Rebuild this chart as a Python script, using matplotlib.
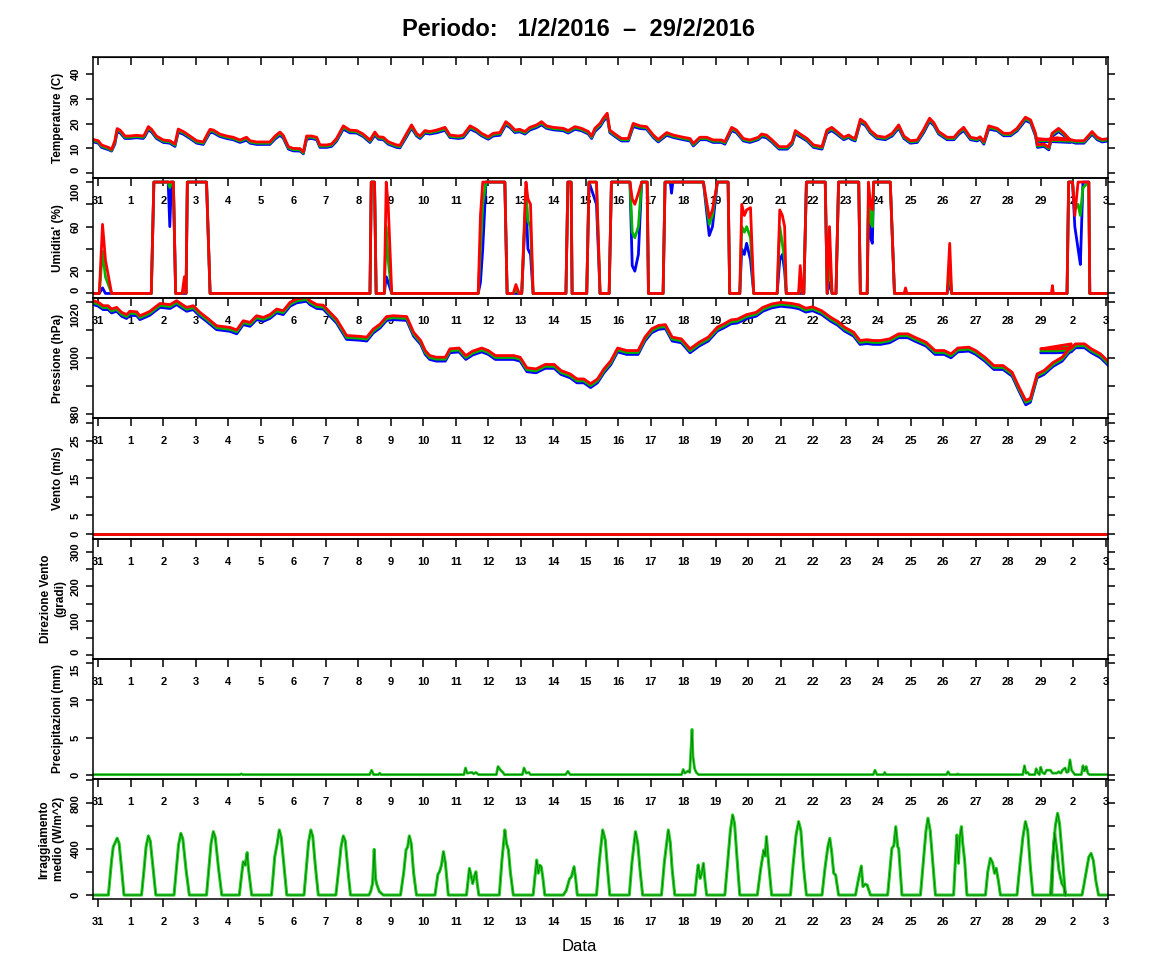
import matplotlib
matplotlib.use('Agg')
import matplotlib.pyplot as plt

plt.rcParams['font.family'] = ['Liberation Sans', 'DejaVu Sans']

# ---------------- data ----------------
DAY_LABELS = ['31', '1', '2', '3', '4', '5', '6', '7', '8', '9', '10', '11', '12', '13', '14', '15',
              '16', '17', '18', '19', '20', '21', '22', '23', '24', '25', '26', '27', '28', '29', '2', '3']

# Temperature (days since 31 Jan 00:00)
T_TIME = [-0.15, 0.0, 0.1, 0.31, 0.41, 0.51, 0.58, 0.67, 0.82, 0.97,
          1.18, 1.38, 1.43, 1.54, 1.64, 1.79,
          2.0, 2.2, 2.36, 2.46, 2.62, 2.82,
          3.03, 3.23, 3.38, 3.44, 3.54, 3.74, 3.95,
          4.15, 4.36, 4.56, 4.67, 4.87,
          5.08, 5.28, 5.44, 5.59, 5.69, 5.85,
          6.0, 6.21, 6.31, 6.41, 6.56, 6.72, 6.82,
          7.03, 7.18, 7.33, 7.54, 7.74, 7.95,
          8.15, 8.36, 8.51, 8.62, 8.77, 8.92,
          9.18, 9.28, 9.49, 9.64, 9.79, 9.9,
          10.05, 10.2, 10.41, 10.67, 10.82,
          11.08, 11.23, 11.44, 11.64, 11.79,
          12.0, 12.15, 12.36, 12.54, 12.67, 12.82, 12.97,
          13.13, 13.28, 13.49, 13.64, 13.79,
          14.0, 14.31, 14.46, 14.67, 14.87,
          15.08, 15.18, 15.28, 15.44, 15.54, 15.66, 15.74, 15.9,
          16.1, 16.31, 16.46, 16.67, 16.87,
          17.08, 17.23, 17.49, 17.69,
          18.0, 18.21, 18.31, 18.51, 18.72, 18.92,
          19.18, 19.28, 19.49, 19.64, 19.85,
          20.05, 20.31, 20.41, 20.56, 20.72, 20.95,
          21.2, 21.35, 21.45, 21.6, 21.81,
          22.01, 22.27, 22.42, 22.57, 22.73, 22.94,
          23.09, 23.19, 23.29, 23.45, 23.6, 23.76, 23.96,
          24.22, 24.43, 24.63, 24.79, 24.99,
          25.2, 25.4, 25.58, 25.71, 25.86,
          26.12, 26.33, 26.48, 26.63, 26.84,
          27.04, 27.14, 27.25, 27.4, 27.66, 27.86,
          28.07, 28.27, 28.53, 28.69, 28.84, 28.9,
          29.1, 29.25, 29.35, 29.55, 29.7, 29.91,
          28.9, 29.2, 29.5, 29.9,
          30.07, 30.33, 30.58, 30.74, 30.89, 31.09]
T_RED = [13.6, 13.1, 11.4, 10.4, 9.6, 13.1, 18.0, 17.4, 15.0, 15.0,
         15.3, 15.0, 15.8, 18.8, 17.7, 15.0,
         13.4, 13.1, 11.8, 17.8, 16.8, 15.0,
         13.1, 12.6, 16.4, 17.7, 17.4, 15.8, 15.0,
         14.5, 13.4, 14.5, 13.1, 12.6,
         12.6, 12.6, 15.0, 16.6, 15.3, 10.7,
         10.0, 9.9, 8.6, 15.0, 15.0, 14.5, 11.4,
         11.4, 11.8, 14.0, 19.1, 17.4, 17.2,
         15.8, 13.4, 16.6, 14.7, 14.5, 12.7,
         11.4, 11.2, 16.1, 19.5, 16.1, 15.0,
         17.2, 16.8, 17.4, 18.5, 15.4,
         15.0, 15.4, 19.1, 17.7, 16.1,
         14.7, 16.1, 16.4, 20.8, 19.5, 17.4, 17.7,
         16.8, 18.5, 19.5, 20.8, 19.1,
         18.5, 18.1, 17.2, 18.8, 18.1,
         16.8, 15.0, 18.1, 20.1, 22.2, 24.2, 17.4, 15.8,
         14.0, 14.0, 20.1, 19.1, 18.8,
         15.4, 13.6, 16.4, 15.4,
         14.5, 14.0, 12.0, 14.5, 14.5, 13.4,
         13.4, 12.7, 18.5, 17.4, 14.0,
         13.4, 14.5, 15.8, 15.4, 13.6, 10.7,
         10.7, 12.7, 17.2, 15.8, 14.0,
         11.4, 10.7, 17.4, 18.5, 16.8, 14.5,
         15.4, 14.5, 14.0, 21.8, 20.4, 17.2, 15.0,
         14.5, 16.1, 19.5, 15.0, 13.1,
         13.4, 17.7, 22.2, 20.4, 16.8,
         14.5, 14.5, 16.8, 18.5, 14.5,
         14.0, 14.7, 12.7, 19.1, 18.1, 16.1,
         16.1, 18.1, 22.6, 21.5, 16.1, 11.4,
         11.8, 10.4, 16.1, 18.1, 16.4, 13.4,
         13.8, 13.6, 14.3, 13.6,
         13.1, 13.1, 16.8, 14.5, 13.6, 14.0]
T_GREEN = [13.1, 12.6, 10.9, 9.9, 9.2, 12.5, 17.4, 16.9, 14.5, 14.5,
           14.8, 14.5, 15.3, 18.2, 17.2, 14.5,
           12.9, 12.6, 11.3, 17.2, 16.3, 14.5,
           12.6, 12.1, 15.8, 17.1, 16.9, 15.3, 14.5,
           14.0, 12.9, 14.0, 12.6, 12.1,
           12.1, 12.1, 14.4, 16.0, 14.8, 10.2,
           9.5, 9.4, 8.1, 14.4, 14.5, 14.0, 10.9,
           10.9, 11.3, 13.5, 18.5, 16.9, 16.7,
           15.3, 12.9, 16.0, 14.2, 14.0, 12.2,
           10.9, 10.7, 15.5, 18.9, 15.6, 14.5,
           16.7, 16.3, 16.9, 17.9, 14.9,
           14.5, 14.9, 18.5, 17.2, 15.6,
           14.2, 15.6, 15.9, 20.2, 19.0, 16.9, 17.2,
           16.3, 18.0, 19.0, 20.2, 18.6,
           18.0, 17.6, 16.7, 18.3, 17.6,
           16.3, 14.5, 17.5, 19.5, 21.6, 23.6, 16.9, 15.3,
           13.5, 13.5, 19.5, 18.6, 18.3,
           14.9, 13.1, 15.9, 14.9,
           14.0, 13.5, 11.5, 14.0, 14.0, 12.9,
           12.9, 12.2, 17.9, 16.9, 13.5,
           12.9, 14.0, 15.3, 14.9, 13.1, 10.2,
           10.2, 12.2, 16.6, 15.3, 13.5,
           10.9, 10.2, 16.8, 17.9, 16.3, 14.0,
           14.9, 14.0, 13.5, 21.2, 19.9, 16.7, 14.5,
           14.0, 15.6, 18.9, 14.5, 12.6,
           12.9, 17.1, 21.6, 19.9, 16.3,
           14.0, 14.0, 16.3, 17.9, 14.0,
           13.5, 14.2, 12.2, 18.5, 17.6, 15.6,
           15.6, 17.6, 22.0, 20.9, 15.6, 10.9,
           11.3, 9.9, 15.5, 17.5, 15.9, 12.9,
           13.4, 13.2, 13.8, 13.2,
           12.6, 12.6, 16.3, 14.0, 13.1, 13.5]
T_BLUE = [12.6, 12.1, 10.4, 9.5, 8.9, 11.8, 16.6, 16.3, 14.0, 14.0,
          14.3, 14.0, 14.7, 17.5, 16.6, 14.0,
          12.4, 12.1, 10.8, 16.5, 15.7, 14.0,
          12.1, 11.6, 15.1, 16.4, 16.3, 14.8, 14.0,
          13.5, 12.4, 13.3, 12.1, 11.6,
          11.6, 11.6, 13.8, 15.3, 14.2, 9.7,
          9.0, 8.9, 7.8, 13.7, 14.0, 13.5, 10.4,
          10.4, 10.8, 12.9, 17.8, 16.3, 16.2,
          14.8, 12.4, 15.3, 13.7, 13.5, 11.7,
          10.4, 10.2, 14.8, 18.2, 15.1, 14.0,
          16.1, 15.8, 16.3, 17.3, 14.4,
          14.0, 14.3, 17.8, 16.6, 15.1,
          13.7, 15.0, 15.3, 19.5, 18.4, 16.4, 16.7,
          15.8, 17.4, 18.4, 19.5, 18.1,
          17.5, 17.1, 16.2, 17.7, 17.1,
          15.8, 14.0, 16.8, 18.8, 20.9, 22.9, 16.4, 14.8,
          13.0, 13.0, 18.8, 18.0, 17.8,
          14.4, 12.6, 15.3, 14.4,
          13.5, 13.0, 11.0, 13.5, 13.5, 12.4,
          12.4, 11.7, 17.2, 16.3, 13.0,
          12.4, 13.5, 14.7, 14.3, 12.6, 9.7,
          9.7, 11.7, 15.9, 14.7, 13.0,
          10.4, 9.7, 16.1, 17.2, 15.7, 13.5,
          14.4, 13.5, 13.0, 20.5, 19.3, 16.2, 14.0,
          13.5, 15.0, 18.2, 14.0, 12.1,
          12.4, 16.4, 20.9, 19.3, 15.8,
          13.5, 13.5, 15.7, 17.2, 13.5,
          13.0, 13.7, 11.7, 17.8, 17.1, 15.1,
          15.1, 17.0, 21.3, 20.3, 15.0, 10.4,
          10.8, 9.4, 14.8, 16.8, 15.3, 12.4,
          13.0, 12.8, 13.3, 12.8,
          12.1, 12.1, 15.7, 13.5, 12.6, 13.0]

# Relative humidity (%)
H_TIME = [-0.15, 0.03, 0.13, 0.22, 0.41, 1.63, 1.71, 2.15, 2.2, 2.25,
          2.31, 2.38, 2.58, 2.65, 2.7, 2.74, 3.33, 3.44, 8.36, 8.4,
          8.5, 8.55, 8.8, 8.86, 8.92, 9.03, 11.69, 11.76, 11.83, 11.93,
          12.51, 12.58, 12.77, 12.85, 12.95, 13.03, 13.16, 13.22, 13.3, 13.38,
          14.39, 14.45, 14.55, 14.58, 15.03, 15.1, 15.33, 15.44, 15.72, 15.79,
          16.36, 16.43, 16.51, 16.62, 16.72, 16.89, 16.93, 17.38, 17.44, 17.6,
          17.64, 17.68, 18.62, 18.8, 18.9, 19.05, 19.38, 19.43, 19.74, 19.8,
          19.88, 19.95, 20.07, 20.17, 20.89, 20.97, 21.05, 21.12, 21.17, 21.55,
          21.6, 21.66, 21.71, 21.79, 22.37, 22.43, 22.5, 22.58, 22.7, 22.78,
          23.4, 23.45, 23.66, 23.7, 23.76, 23.82, 23.86, 24.37, 24.5, 24.8,
          24.84, 24.88, 26.12, 26.2, 26.26, 29.33, 29.36, 29.39, 29.81, 29.86,
          29.98, 30.05, 30.15, 30.22, 30.3, 30.48, 30.51, 31.09]
H_RED = [0, 0, 62, 30, 0, 0, 100, 100, 100, 100,
         100, 0, 0, 15, 0, 100, 100, 0, 0, 100,
         100, 0, 0, 100, 80, 0, 0, 70, 100, 100,
         100, 0, 0, 8, 0, 0, 100, 85, 80, 0,
         0, 100, 100, 0, 0, 100, 100, 0, 0, 100,
         100, 85, 80, 90, 100, 100, 0, 0, 100, 100,
         100, 100, 100, 68, 75, 100, 100, 0, 0, 80,
         70, 75, 77, 0, 0, 75, 70, 60, 0, 0,
         25, 0, 0, 100, 100, 0, 60, 0, 0, 100,
         100, 0, 0, 100, 80, 75, 100, 100, 0, 0,
         5, 0, 0, 45, 0, 0, 7, 0, 0, 100,
         100, 70, 100, 100, 100, 100, 0, 0]
H_GREEN = [0, 0, 38, 15, 0, 0, 100, 100, 95, 100,
           100, 0, 0, 5, 0, 100, 100, 0, 0, 100,
           100, 0, 0, 60, 30, 0, 0, 40, 80, 100,
           100, 0, 0, 3, 0, 0, 95, 65, 60, 0,
           0, 100, 100, 0, 0, 100, 100, 0, 0, 100,
           100, 55, 50, 60, 100, 100, 0, 0, 100, 100,
           100, 100, 100, 62, 70, 100, 100, 0, 0, 60,
           55, 60, 50, 0, 0, 60, 45, 30, 0, 0,
           10, 0, 0, 100, 100, 0, 30, 0, 0, 100,
           100, 0, 0, 90, 65, 60, 100, 100, 0, 0,
           0, 0, 0, 20, 0, 0, 0, 0, 0, 100,
           100, 75, 80, 70, 95, 100, 0, 0]
H_BLUE = [0, 0, 5, 0, 0, 0, 100, 100, 60, 100,
          100, 0, 0, 0, 0, 100, 100, 0, 0, 100,
          100, 0, 0, 15, 10, 0, 0, 10, 40, 100,
          100, 0, 0, 0, 0, 0, 85, 40, 35, 0,
          0, 100, 100, 0, 0, 100, 80, 0, 0, 100,
          100, 25, 20, 35, 100, 100, 0, 0, 100, 100,
          90, 100, 100, 52, 60, 100, 100, 0, 0, 40,
          35, 45, 30, 0, 0, 30, 35, 20, 0, 0,
          0, 0, 0, 100, 100, 0, 10, 0, 0, 100,
          100, 0, 0, 80, 50, 45, 100, 100, 0, 0,
          0, 0, 0, 10, 0, 0, 0, 0, 0, 100,
          100, 60, 40, 26, 100, 100, 0, 0]

# Pressure (hPa)
P_TIME = [-0.15, 0.0, 0.15, 0.3, 0.41, 0.56, 0.72, 0.87, 0.97, 1.18,
          1.28, 1.44, 1.59, 1.74, 1.9, 2.21, 2.41, 2.56, 2.72, 2.92,
          3.13, 3.33, 3.64, 4.05, 4.26, 4.46, 4.67, 4.87, 5.08, 5.28,
          5.49, 5.69, 5.9, 6.1, 6.41, 6.51, 6.72, 6.92, 7.13, 7.33,
          7.64, 8.05, 8.26, 8.46, 8.67, 8.87, 9.08, 9.49, 9.7, 9.92,
          10.06, 10.2, 10.4, 10.68, 10.82, 11.1, 11.31, 11.52, 11.8, 12.0,
          12.22, 12.78, 12.98, 13.19, 13.47, 13.75, 14.03, 14.24, 14.52, 14.73,
          14.94, 15.15, 15.36, 15.56, 15.77, 15.98, 16.26, 16.61, 16.82, 17.03,
          17.24, 17.45, 17.66, 17.94, 18.21, 18.49, 18.77, 19.05, 19.26, 19.47,
          19.67, 19.95, 20.24, 20.45, 20.72, 21.0, 21.34, 21.56, 21.77, 21.98,
          22.26, 22.54, 22.75, 22.96, 23.24, 23.44, 23.65, 23.86, 24.07, 24.35,
          24.63, 24.91, 25.12, 25.47, 25.75, 26.03, 26.24, 26.45, 26.79, 27.0,
          27.28, 27.56, 27.84, 28.12, 28.33, 28.54, 28.68, 28.89, 29.1, 29.38,
          29.66, 29.87, 29.94, 29.0, 29.5, 29.94, 30.07, 30.35, 30.56, 30.84,
          31.11]
P_RED = [1020.6, 1020.0, 1018.8, 1018.8, 1017.6, 1018.2, 1016.4, 1015.6, 1016.8, 1016.6,
         1015.2, 1016.0, 1016.8, 1018.2, 1019.6, 1019.2, 1020.6, 1019.4, 1018.2, 1018.8,
         1016.4, 1014.6, 1011.6, 1011.0, 1010.1, 1013.4, 1012.8, 1015.2, 1014.6, 1015.6,
         1017.6, 1017.0, 1020.0, 1021.2, 1021.8, 1020.6, 1019.2, 1019.0, 1016.4, 1014.0,
         1008.1, 1007.8, 1007.5, 1010.4, 1012.2, 1014.9, 1015.2, 1014.9, 1009.3, 1006.3,
         1002.7, 1000.9, 1000.3, 1000.3, 1003.3, 1003.6, 1000.9, 1002.5, 1003.6, 1002.7,
         1000.9, 1000.9, 1000.3, 996.5, 996.1, 997.7, 997.7, 995.5, 994.3, 992.5,
         992.5, 990.8, 992.5, 996.1, 999.0, 1003.6, 1002.7, 1002.7, 1007.5, 1010.5,
         1011.7, 1012.0, 1007.5, 1006.9, 1003.3, 1005.7, 1007.5, 1011.1, 1012.3, 1013.7,
         1014.0, 1015.6, 1016.4, 1018.2, 1019.4, 1020.0, 1019.6, 1019.1, 1017.9, 1018.4,
         1017.0, 1014.6, 1013.2, 1011.1, 1009.3, 1006.3, 1006.6, 1006.3, 1006.3, 1006.9,
         1008.7, 1008.7, 1007.5, 1005.7, 1002.7, 1002.7, 1001.5, 1003.6, 1003.9, 1002.7,
         1000.3, 997.3, 997.3, 994.9, 989.6, 984.8, 985.5, 994.3, 995.5, 998.4,
         1000.3, 1003.3, 1005.1, 1003.3, 1003.3, 1003.6, 1005.1, 1005.1, 1003.3, 1001.5,
         998.4]
P_GREEN = [1019.9, 1019.3, 1018.1, 1018.1, 1016.9, 1017.5, 1015.7, 1014.9, 1016.1, 1015.9,
           1014.5, 1015.3, 1016.1, 1017.5, 1018.9, 1018.5, 1019.9, 1018.7, 1017.5, 1018.1,
           1015.7, 1013.9, 1010.9, 1010.3, 1009.4, 1012.7, 1012.1, 1014.5, 1013.9, 1014.9,
           1016.9, 1016.3, 1019.3, 1020.5, 1021.1, 1019.9, 1018.5, 1018.3, 1015.7, 1013.3,
           1007.4, 1007.1, 1006.8, 1009.7, 1011.5, 1014.2, 1014.5, 1014.2, 1008.6, 1005.6,
           1002.0, 1000.2, 999.6, 999.6, 1002.6, 1002.9, 1000.2, 1001.8, 1002.9, 1002.0,
           1000.2, 1000.2, 999.6, 995.8, 995.4, 997.0, 997.0, 994.8, 993.6, 991.8,
           991.8, 990.1, 991.8, 995.4, 998.3, 1002.9, 1002.0, 1002.0, 1006.8, 1009.8,
           1011.0, 1011.3, 1006.8, 1006.2, 1002.6, 1005.0, 1006.8, 1010.4, 1011.6, 1013.0,
           1013.3, 1014.9, 1015.7, 1017.5, 1018.7, 1019.3, 1018.9, 1018.4, 1017.2, 1017.7,
           1016.3, 1013.9, 1012.5, 1010.4, 1008.6, 1005.6, 1005.9, 1005.6, 1005.6, 1006.2,
           1008.0, 1008.0, 1006.8, 1005.0, 1002.0, 1002.0, 1000.8, 1002.9, 1003.2, 1002.0,
           999.6, 996.6, 996.6, 994.2, 988.9, 984.1, 984.8, 993.6, 994.8, 997.7,
           999.6, 1002.6, 1004.4, 1002.6, 1002.6, 1002.9, 1004.4, 1004.4, 1002.6, 1000.8,
           997.7]
P_BLUE = [1019.2, 1018.6, 1017.4, 1017.4, 1016.2, 1016.8, 1015.0, 1014.2, 1015.4, 1015.2,
          1013.8, 1014.6, 1015.4, 1016.8, 1018.2, 1017.8, 1019.2, 1018.0, 1016.8, 1017.4,
          1015.0, 1013.2, 1010.2, 1009.6, 1008.7, 1012.0, 1011.4, 1013.8, 1013.2, 1014.2,
          1016.2, 1015.6, 1018.6, 1019.8, 1020.4, 1019.2, 1017.8, 1017.6, 1015.0, 1012.6,
          1006.7, 1006.4, 1006.1, 1009.0, 1010.8, 1013.5, 1013.8, 1013.5, 1007.9, 1004.9,
          1001.3, 999.5, 998.9, 998.9, 1001.9, 1002.2, 999.5, 1001.1, 1002.2, 1001.3,
          999.5, 999.5, 998.9, 995.1, 994.7, 996.3, 996.3, 994.1, 992.9, 991.1,
          991.1, 989.4, 991.1, 994.7, 997.6, 1002.2, 1001.3, 1001.3, 1006.1, 1009.1,
          1010.3, 1010.6, 1006.1, 1005.5, 1001.9, 1004.3, 1006.1, 1009.7, 1010.9, 1012.3,
          1012.6, 1014.2, 1015.0, 1016.8, 1018.0, 1018.6, 1018.2, 1017.7, 1016.5, 1017.0,
          1015.6, 1013.2, 1011.8, 1009.7, 1007.9, 1004.9, 1005.2, 1004.9, 1004.9, 1005.5,
          1007.3, 1007.3, 1006.1, 1004.3, 1001.3, 1001.3, 1000.1, 1002.2, 1002.5, 1001.3,
          998.9, 995.9, 995.9, 993.5, 988.2, 983.2, 984.1, 992.9, 994.1, 997.0,
          998.9, 1001.9, 1003.7, 1001.9, 1001.9, 1002.2, 1003.7, 1003.7, 1001.9, 1000.1,
          997.0]

# Wind speed (m/s)
V_TIME = [-0.15, 31.09]
V_BLUE = [0.0, 0.0]
V_GREEN = [0.0, 0.0]
V_RED = [0.0, 0.0]

# Wind direction: no data recorded
D_TIME = []
D_VALUE = []

# Precipitation (mm)
PR_TIME = [-0.15, 4.35, 4.4, 4.45, 8.35, 8.41, 8.47, 8.62, 8.66, 8.7,
           11.25, 11.3, 11.35, 11.5, 11.55, 11.62, 11.7, 12.25, 12.3, 12.38,
           12.45, 12.5, 13.05, 13.1, 13.17, 13.25, 13.3, 14.38, 14.45, 14.52,
           17.95, 18.0, 18.05, 18.15, 18.2, 18.27, 18.3, 18.35, 18.4, 18.47,
           23.85, 23.9, 23.96, 24.17, 24.2, 24.24, 26.1, 26.15, 26.2, 26.42,
           26.45, 26.48, 28.45, 28.5, 28.55, 28.6, 28.65, 28.82, 28.86, 28.9,
           28.96, 29.0, 29.05, 29.12, 29.18, 29.3, 29.36, 29.5, 29.55, 29.62,
           29.67, 29.75, 29.8, 29.85, 29.9, 29.95, 30.0, 30.05, 30.25, 30.3,
           30.35, 30.4, 30.45, 30.5, 31.09]
PR_VALUE = [0, 0, 0.1, 0, 0, 0.6, 0, 0, 0.2, 0,
            0, 0.9, 0.2, 0.3, 0.1, 0.3, 0, 0, 1.1, 0.6,
            0.3, 0, 0, 0.9, 0.2, 0.3, 0, 0, 0.45, 0,
            0, 0.7, 0.2, 0.5, 0.3, 6.1, 2.4, 0.8, 0.3, 0,
            0, 0.6, 0, 0, 0.3, 0, 0, 0.4, 0, 0,
            0.1, 0, 0, 1.2, 0.2, 0.3, 0, 0, 0.8, 0.3,
            0, 1.0, 0.3, 0.1, 0.6, 0.6, 0.2, 0.2, 0.4, 0.2,
            0.6, 0.9, 0.3, 0.4, 2.0, 0.6, 0.3, 0, 0, 1.2,
            0.5, 1.1, 0.2, 0, 0]

# Mean solar irradiance (W/m^2)
IR_TIME = [-0.15, 0.31, 0.41, 0.46, 0.51, 0.58, 0.64, 0.72, 0.79,
           1.33, 1.4, 1.47, 1.54, 1.6, 1.68, 1.77,
           2.33, 2.4, 2.47, 2.54, 2.6, 2.7, 2.8,
           3.33, 3.4, 3.47, 3.54, 3.6, 3.7, 3.8,
           4.34, 4.42, 4.46, 4.52, 4.58, 4.62, 4.72,
           5.33, 5.43, 5.5, 5.57, 5.63, 5.72, 5.8,
           6.33, 6.4, 6.47, 6.54, 6.6, 6.68, 6.77,
           7.31, 7.4, 7.47, 7.54, 7.6, 7.68, 7.76,
           8.33, 8.38, 8.44, 8.49, 8.53, 8.56, 8.65, 8.77,
           9.3, 9.4, 9.47, 9.52, 9.57, 9.63, 9.7, 9.79,
           10.36, 10.45, 10.5, 10.56, 10.62, 10.68, 10.77,
           11.33, 11.42, 11.48, 11.52, 11.58, 11.62, 11.66, 11.71,
           12.34, 12.42, 12.51, 12.56, 12.62, 12.68, 12.77,
           13.38, 13.45, 13.49, 13.54, 13.58, 13.63, 13.68, 13.74,
           14.31, 14.4, 14.5, 14.56, 14.64, 14.69, 14.74,
           15.33, 15.42, 15.52, 15.6, 15.67, 15.74,
           16.34, 16.42, 16.53, 16.6, 16.67, 16.75,
           17.33, 17.42, 17.54, 17.6, 17.66, 17.74,
           18.36, 18.42, 18.46, 18.52, 18.58, 18.62, 18.67, 18.72,
           19.28, 19.37, 19.45, 19.52, 19.58, 19.66, 19.74,
           20.28, 20.37, 20.41, 20.48, 20.52, 20.56, 20.62, 20.72,
           21.3, 21.38, 21.47, 21.55, 21.62, 21.7, 21.79,
           22.27, 22.36, 22.45, 22.51, 22.57, 22.63, 22.69, 22.78,
           23.3, 23.38, 23.48, 23.53, 23.6, 23.66, 23.76,
           24.29, 24.37, 24.42, 24.48, 24.54, 24.6, 24.63, 24.73,
           25.3, 25.4, 25.47, 25.53, 25.6, 25.68, 25.76,
           26.32, 26.38, 26.42, 26.47, 26.5, 26.56, 26.6, 26.66, 26.73,
           27.3, 27.37, 27.45, 27.52, 27.58, 27.63, 27.7, 27.76,
           28.27, 28.36, 28.45, 28.53, 28.6, 28.68, 28.76,
           29.3, 29.37, 29.45, 29.52, 29.58, 29.67, 29.76,
           29.34, 29.38, 29.43, 29.5, 29.56, 29.65, 29.71, 29.76,
           30.27, 30.32, 30.4, 30.48, 30.55, 30.62, 30.7, 30.78, 31.09]
IR_VALUE = [0, 0, 305, 420, 450, 495, 450, 218, 0,
            0, 200, 420, 515, 470, 250, 0,
            0, 220, 440, 538, 490, 220, 0,
            0, 230, 450, 553, 500, 230, 0,
            0, 200, 290, 260, 370, 230, 0,
            0, 335, 440, 567, 500, 230, 0,
            0, 230, 460, 567, 510, 250, 0,
            0, 230, 420, 515, 470, 220, 0,
            0, 30, 100, 398, 150, 100, 30, 0,
            0, 200, 393, 420, 515, 450, 200, 0,
            0, 180, 203, 260, 378, 280, 0,
            0, 232, 160, 100, 170, 203, 100, 0,
            0, 300, 567, 450, 392, 200, 0,
            0, 200, 305, 190, 260, 247, 150, 0,
            0, 40, 140, 160, 247, 140, 0,
            0, 300, 567, 480, 230, 0,
            0, 280, 552, 450, 220, 0,
            0, 290, 567, 460, 220, 0,
            0, 170, 262, 145, 200, 276, 120, 0,
            0, 300, 560, 698, 620, 300, 0,
            0, 200, 276, 392, 340, 509, 300, 0,
            0, 260, 520, 640, 560, 250, 0,
            0, 230, 420, 494, 370, 190, 174, 0,
            0, 120, 253, 73, 95, 87, 0,
            0, 250, 407, 430, 596, 420, 407, 0,
            0, 330, 560, 669, 560, 280, 0,
            0, 330, 523, 276, 480, 596, 451, 300, 0,
            0, 200, 320, 280, 189, 233, 120, 0,
            0, 260, 500, 640, 560, 250, 0,
            0, 330, 600, 712, 620, 320, 0,
            0, 300, 538, 380, 218, 100, 73, 0,
            0, 73, 200, 330, 363, 300, 120, 0, 0]

# ---------------- layout ----------------
W, H = 1152.0, 972.0
LEFT, RIGHT, TOP, PH = 93.3, 1108.3, 57.3, 120.3
XLIM = (-0.154, 31.08)

BLUE = '#0000FF'
GREEN = '#00B400'
RED = '#FF0000'
GREEN2 = '#1ECD1E'

fig = plt.figure(figsize=(W / 100, H / 100), dpi=100)

# 'va' entries: vertical alignment of each y tick label (keeps the end labels of
# neighbouring panels from running into each other)
panels = [
    dict(label='Temperature (C)', ylim=(-1.8, 46.8), ticks=[0, 10, 20, 30, 40],
         tlabels=['0', '10', '20', '30', '40'], va=['bottom', 'center', 'center', 'center', 'center'], lx=58),
    dict(label="Umidita' (%)", ylim=(-4, 104), ticks=[0, 20, 40, 60, 80, 100],
         tlabels=['0', '20', '', '60', '', '100'],
         va=['bottom', 'center', 'center', 'center', 'center', 'top'], lx=58),
    dict(label='Pressione (hPa)', ylim=(978.4, 1021.6), ticks=[980, 990, 1000, 1010, 1020],
         tlabels=['980', '', '1000', '', '1020'], va=['center', 'center', 'center', 'center', 'top'], lx=58),
    dict(label='Vento (m/s)', ylim=(-1.2, 31.2), ticks=[0, 5, 10, 15, 20, 25, 30],
         tlabels=['0', '5', '', '15', '', '25', ''], va=['center'] * 7, lx=58),
    dict(label='Direzione Vento\n(gradi)', ylim=(-10.4, 338.6), ticks=[0, 50, 100, 150, 200, 250, 300],
         tlabels=['0', '', '100', '', '200', '', '300'], va=['bottom'] + ['center'] * 6, lx=53),
    dict(label='Precipitazioni (mm)', ylim=(-0.6, 15.6), ticks=[0, 5, 10, 15],
         tlabels=['0', '5', '10', '15'], va=['center', 'center', 'center', 'top'], lx=58),
    dict(label='Irraggiamento\nmedio (W/m^2)', ylim=(-38, 1010), ticks=[0, 200, 400, 600, 800, 1000],
         tlabels=['0', '', '400', '', '800', ''], va=['center'] * 6, lx=52),
]

axes = []
for i, p in enumerate(panels):
    top = TOP + PH * i
    ax = fig.add_axes([LEFT / W, 1 - (top + PH) / H, (RIGHT - LEFT) / W, PH / H])
    ax.set_facecolor('none')
    ax.set_xlim(XLIM)
    ax.set_ylim(p['ylim'])
    ax.set_xticks(range(len(DAY_LABELS)))
    ax.set_xticklabels(DAY_LABELS, fontsize=8, fontweight='bold')
    ax.tick_params(axis='x', direction='out', length=5.4, width=1.1, pad=7.6)
    ax.set_yticks(p['ticks'])
    ax.set_yticklabels(p['tlabels'], rotation=90, va='center', fontsize=8, fontweight='bold')
    for lab, va in zip(ax.get_yticklabels(), p['va']):
        lab.set_va(va)
    ax.tick_params(axis='y', direction='out', length=5.0, width=1.1, pad=4.2,
                   right=True, labelright=False)
    for s in ax.spines.values():
        s.set_linewidth(1.1)
    ax.text((p['lx'] - LEFT) / (RIGHT - LEFT), 0.5, p['label'], transform=ax.transAxes,
            rotation=90, ha='center', va='center', multialignment='center',
            fontsize=8.5, fontweight='bold', linespacing=1.3)
    axes.append(ax)

# inward ticks at the top of the first panel
sec = axes[0].secondary_xaxis('top')
sec.set_xticks(range(len(DAY_LABELS)))
sec.set_xticklabels([])
sec.tick_params(direction='in', length=5.8, width=1.1)

# ---------------- data lines ----------------
assert len(T_TIME) == len(T_RED) == len(T_GREEN) == len(T_BLUE)
assert len(H_TIME) == len(H_RED) == len(H_GREEN) == len(H_BLUE)
assert len(P_TIME) == len(P_RED) == len(P_GREEN) == len(P_BLUE)
assert len(PR_TIME) == len(PR_VALUE)
assert len(IR_TIME) == len(IR_VALUE)

LW = 2.0
for ax, t, b, g, r in [(axes[0], T_TIME, T_BLUE, T_GREEN, T_RED),
                       (axes[1], H_TIME, H_BLUE, H_GREEN, H_RED),
                       (axes[2], P_TIME, P_BLUE, P_GREEN, P_RED),
                       (axes[3], V_TIME, V_BLUE, V_GREEN, V_RED)]:
    ax.plot(t, b, color=BLUE, lw=LW)
    ax.plot(t, g, color=GREEN, lw=LW)
    ax.plot(t, r, color=RED, lw=LW)

axes[4].plot(D_TIME, D_VALUE, color=RED, lw=LW)

axes[5].plot(PR_TIME, PR_VALUE, color=GREEN2, lw=LW)
axes[5].plot(PR_TIME, PR_VALUE, color='#0B6A0B', lw=0.5)
axes[6].plot(IR_TIME, IR_VALUE, color=GREEN2, lw=LW + 0.2)
axes[6].plot(IR_TIME, IR_VALUE, color='#0B6A0B', lw=0.5)

fig.text(578 / W, 1 - 30 / H, 'Periodo:   1/2/2016  \u2013  29/2/2016', ha='center', va='center',
         fontsize=17, fontweight='bold')
fig.text(579 / W, 1 - 946 / H, 'Data', ha='center', va='center', fontsize=12)

fig.savefig('out.png', dpi=100)
